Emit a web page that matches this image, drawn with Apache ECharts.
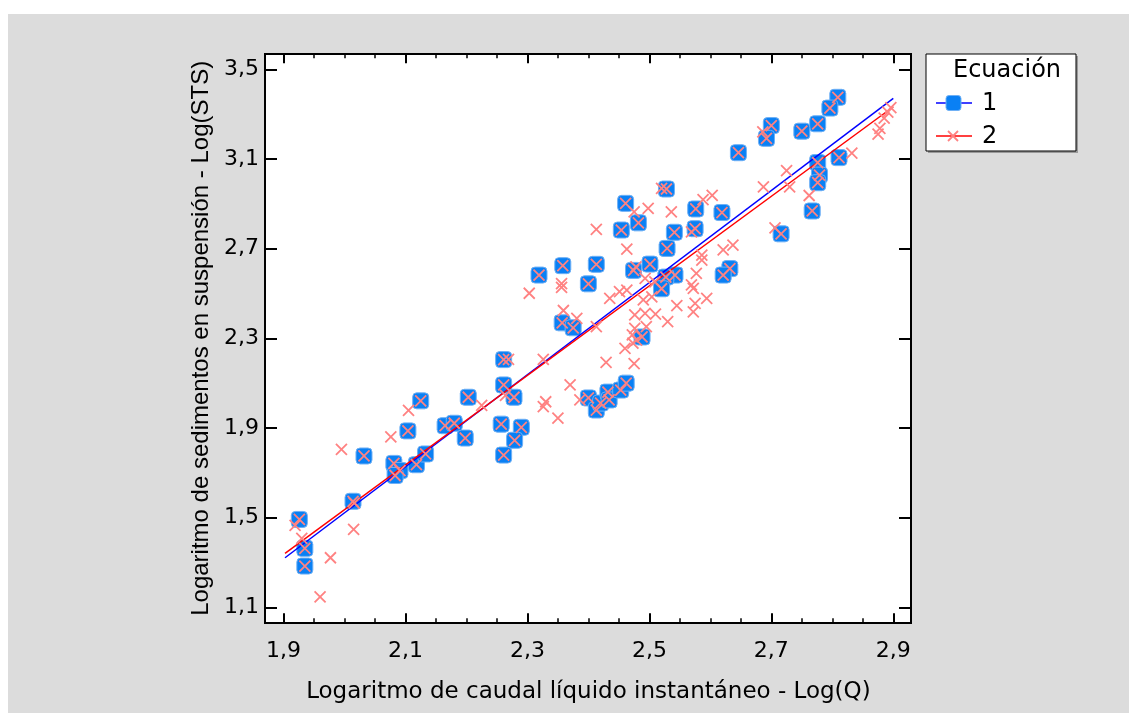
<!DOCTYPE html>
<html>
<head>
<meta charset="utf-8">
<title>Log(STS) vs Log(Q)</title>
<script src="https://cdn.jsdelivr.net/npm/echarts@6/dist/echarts.min.js"></script>
<style>
  html, body { margin: 0; padding: 0; background: #fff; }
  #chart { width: 1129px; height: 713px; }
</style>
</head>
<body>
<div id="chart"></div>
<script>
// Ecuación 1 (cuadrados azules) - Log(Q), Log(STS)
const eq1X = [2.125, 2.203, 2.104, 2.165, 2.180, 2.198, 2.032, 2.081, 2.091, 2.083, 2.118, 2.133, 2.014, 1.926, 1.935, 1.935,
  2.358, 2.319, 2.400, 2.357, 2.375, 2.261, 2.261, 2.278, 2.257, 2.290, 2.279, 2.261,
  2.400, 2.413, 2.420, 2.432, 2.434, 2.453, 2.462,
  2.528, 2.461, 2.482, 2.454, 2.541, 2.529, 2.413, 2.501, 2.474, 2.542, 2.527, 2.520, 2.488,
  2.809, 2.796, 2.776, 2.750, 2.700, 2.692, 2.646, 2.811, 2.776, 2.779, 2.776, 2.767, 2.716, 2.619, 2.576, 2.575, 2.632, 2.621];
const eq1Y = [2.021, 2.037, 1.887, 1.910, 1.921, 1.855, 1.775, 1.742, 1.710, 1.688, 1.736, 1.784, 1.573, 1.492, 1.363, 1.284,
  2.624, 2.582, 2.543, 2.369, 2.347, 2.205, 2.092, 2.037, 1.917, 1.903, 1.845, 1.779,
  2.034, 1.980, 2.011, 2.060, 2.025, 2.069, 2.100,
  2.966, 2.902, 2.815, 2.783, 2.773, 2.701, 2.630, 2.631, 2.603, 2.582, 2.573, 2.521, 2.306,
  3.375, 3.327, 3.257, 3.224, 3.249, 3.192, 3.128, 3.106, 3.084, 3.028, 2.994, 2.868, 2.766, 2.861, 2.877, 2.789, 2.611, 2.582];

// puntos que sólo están en la Ecuación 2 (la Ecuación 2 usa también los de la 1)
const eq2OnlyX = [2.105, 2.076, 1.995, 1.919, 2.015, 1.977, 1.960, 1.930, 2.016,
  2.303, 2.356, 2.356, 2.359, 2.381, 2.269, 2.326, 2.225, 2.264, 2.370, 2.330, 2.326, 2.350, 2.386,
  2.520, 2.498, 2.536, 2.475, 2.413, 2.463, 2.478, 2.493, 2.509, 2.463, 2.451, 2.435, 2.490, 2.504, 2.545,
  2.476, 2.493, 2.510, 2.530, 2.413, 2.476, 2.472, 2.479, 2.473, 2.460, 2.429, 2.475, 2.495,
  2.686, 2.832, 2.875, 2.878, 2.885, 2.891, 2.896, 2.725, 2.687, 2.730, 2.762, 2.588, 2.603, 2.569, 2.706,
  2.637, 2.621, 2.586, 2.586, 2.577, 2.569, 2.572, 2.594, 2.575, 2.572];
const eq2OnlyY = [1.978, 1.860, 1.805, 1.465, 1.448, 1.321, 1.147, 1.407, 1.565,
  2.501, 2.544, 2.527, 2.424, 2.389, 2.206, 2.206, 2.001, 2.045, 2.092, 2.017, 1.995, 1.944, 2.025,
  2.969, 2.880, 2.864, 2.864, 2.786, 2.698, 2.619, 2.567, 2.552, 2.515, 2.508, 2.478, 2.471, 2.485, 2.446,
  2.404, 2.411, 2.408, 2.374, 2.352, 2.344, 2.315, 2.292, 2.278, 2.255, 2.193, 2.187, 2.352,
  3.221, 3.126, 3.211, 3.236, 3.282, 3.309, 3.329, 3.048, 2.976, 2.976, 2.937, 2.919, 2.938, 2.775, 2.793,
  2.716, 2.694, 2.671, 2.649, 2.590, 2.538, 2.523, 2.478, 2.456, 2.418];

// rectas ajustadas, extremos
const fitX = [1.9025, 2.9];
const fit1Y = [1.321, 3.370];
const fit2Y = [1.341, 3.333];

const xTicks = [1.9, 2.1, 2.3, 2.5, 2.7, 2.9];
const xMinorTicks = [1.9, 1.95, 2.0, 2.05, 2.1, 2.15, 2.2, 2.25, 2.3, 2.35, 2.4, 2.45, 2.5, 2.55, 2.6, 2.65, 2.7, 2.75, 2.8, 2.85, 2.9];
const yTicks = [1.1, 1.5, 1.9, 2.3, 2.7, 3.1, 3.5];

const pairs = (xs, ys) => xs.map((x, i) => [x, ys[i]]);
const fmt = v => v.toFixed(1).replace('.', ',');

const chart = echarts.init(document.getElementById('chart'));

function xAx(pos, ticks, len, width, label) {
  return {
    type: 'value', position: pos, offset: 16, min: 1.9, max: 2.9,
    axisLine: { show: false },
    splitLine: { show: false },
    axisTick: { show: true, inside: true, length: len, customValues: ticks, lineStyle: { color: '#000', width: width } },
    axisLabel: label ? {
      customValues: xTicks, formatter: fmt, margin: 17,
      fontFamily: 'DejaVu Sans', fontSize: 22, color: '#000'
    } : { show: false }
  };
}
function yAx(pos, offset, label) {
  return {
    type: 'value', position: pos, offset: offset, min: 1.1, max: 3.5,
    axisLine: { show: false },
    splitLine: { show: false },
    axisTick: { show: true, inside: true, length: 12, customValues: yTicks, lineStyle: { color: '#000', width: 2 } },
    axisLabel: label ? {
      customValues: yTicks, formatter: fmt, margin: 6,
      fontFamily: 'DejaVu Sans', fontSize: 22, color: '#000'
    } : { show: false }
  };
}

const xMain = xAx('bottom', xTicks, 10, 2, true);
xMain.name = 'Logaritmo de caudal líquido instantáneo - Log(Q)';
xMain.nameLocation = 'middle';
xMain.nameGap = 57;
xMain.nameTextStyle = { fontFamily: 'DejaVu Sans', fontSize: 23, color: '#000' };

const yMain = yAx('left', 18.5, true);
yMain.name = 'Logaritmo de sedimentos en suspensión - Log(STS)';
yMain.nameLocation = 'middle';
yMain.nameGap = 41;
yMain.nameRotate = 90;
yMain.nameTextStyle = { fontFamily: 'Liberation Sans', fontSize: 24, color: '#000' };

const legendX = 926, legendY = 54;

chart.setOption({
  animation: false,
  grid: { left: 283.5, right: 235.7, top: 69.3, bottom: 105.7 },
  xAxis: [
    xMain,
    xAx('bottom', xMinorTicks, 5, 1.5, false),
    xAx('top', xTicks, 10, 2, false),
    xAx('top', xMinorTicks, 5, 1.5, false)
  ],
  yAxis: [
    yMain,
    yAx('right', 17.7, false)
  ],
  graphic: [
    { type: 'rect', z: -10, shape: { x: 8, y: 14, width: 1121, height: 699 }, style: { fill: '#dcdcdc' } },
    { type: 'rect', z: -9, shape: { x: 265, y: 54, width: 646, height: 569 }, style: { fill: '#fff', stroke: '#000', lineWidth: 2 } },
    // leyenda
    { type: 'rect', z: -9, shape: { x: legendX + 2, y: legendY + 2, width: 150, height: 97 }, style: { fill: '#9a9a9a' } },
    { type: 'rect', z: -8, shape: { x: legendX, y: legendY, width: 150, height: 97 }, style: { fill: '#fff', stroke: '#000', lineWidth: 1 } },
    { type: 'text', z: -7, x: legendX + 27, y: legendY + 17, style: { text: 'Ecuación', fontFamily: 'DejaVu Sans', fontSize: 24, fill: '#000', verticalAlign: 'middle' } },
    { type: 'line', z: -7, shape: { x1: legendX + 10, y1: legendY + 49, x2: legendX + 46, y2: legendY + 49 }, style: { stroke: '#0000ff', lineWidth: 1.5 } },
    { type: 'rect', z: -6, shape: { x: legendX + 20, y: legendY + 41.5, width: 15, height: 15, r: 3 }, style: { fill: '#0a80f4', stroke: '#6fb0f5', lineWidth: 1 } },
    { type: 'text', z: -7, x: legendX + 56, y: legendY + 50, style: { text: '1', fontFamily: 'DejaVu Sans', fontSize: 24, fill: '#000', verticalAlign: 'middle' } },
    { type: 'line', z: -7, shape: { x1: legendX + 10, y1: legendY + 82, x2: legendX + 46, y2: legendY + 82 }, style: { stroke: '#ff0000', lineWidth: 1.5 } },
    { type: 'polyline', z: -6, shape: { points: [[legendX + 22, legendY + 77], [legendX + 32, legendY + 87]] }, style: { stroke: '#ff8282', lineWidth: 1.8 } },
    { type: 'polyline', z: -6, shape: { points: [[legendX + 32, legendY + 77], [legendX + 22, legendY + 87]] }, style: { stroke: '#ff8282', lineWidth: 1.8 } },
    { type: 'text', z: -7, x: legendX + 56, y: legendY + 83, style: { text: '2', fontFamily: 'DejaVu Sans', fontSize: 24, fill: '#000', verticalAlign: 'middle' } }
  ],
  series: [
    {
      name: '1', type: 'scatter', z: 2,
      symbol: 'roundRect', symbolSize: 16,
      itemStyle: { color: '#0a80f4', borderColor: '#6fb0f5', borderWidth: 1, opacity: 1 },
      data: pairs(eq1X, eq1Y)
    },
    {
      name: 'Ajuste 1', type: 'line', z: 3, showSymbol: false, silent: true,
      lineStyle: { color: '#0000ff', width: 1.5 },
      data: pairs(fitX, fit1Y)
    },
    {
      name: 'Ajuste 2', type: 'line', z: 3, showSymbol: false, silent: true,
      lineStyle: { color: '#ff0000', width: 1.5 },
      data: pairs(fitX, fit2Y)
    },
    {
      name: '2', type: 'scatter', z: 4,
      symbol: 'path://M0,0L10,10M10,0L0,10', symbolSize: 11,
      itemStyle: { color: 'rgba(0,0,0,0)', borderColor: '#ff8282', borderWidth: 1.8, opacity: 1 },
      data: pairs(eq1X, eq1Y).concat(pairs(eq2OnlyX, eq2OnlyY))
    }
  ]
});
</script>
</body>
</html>
